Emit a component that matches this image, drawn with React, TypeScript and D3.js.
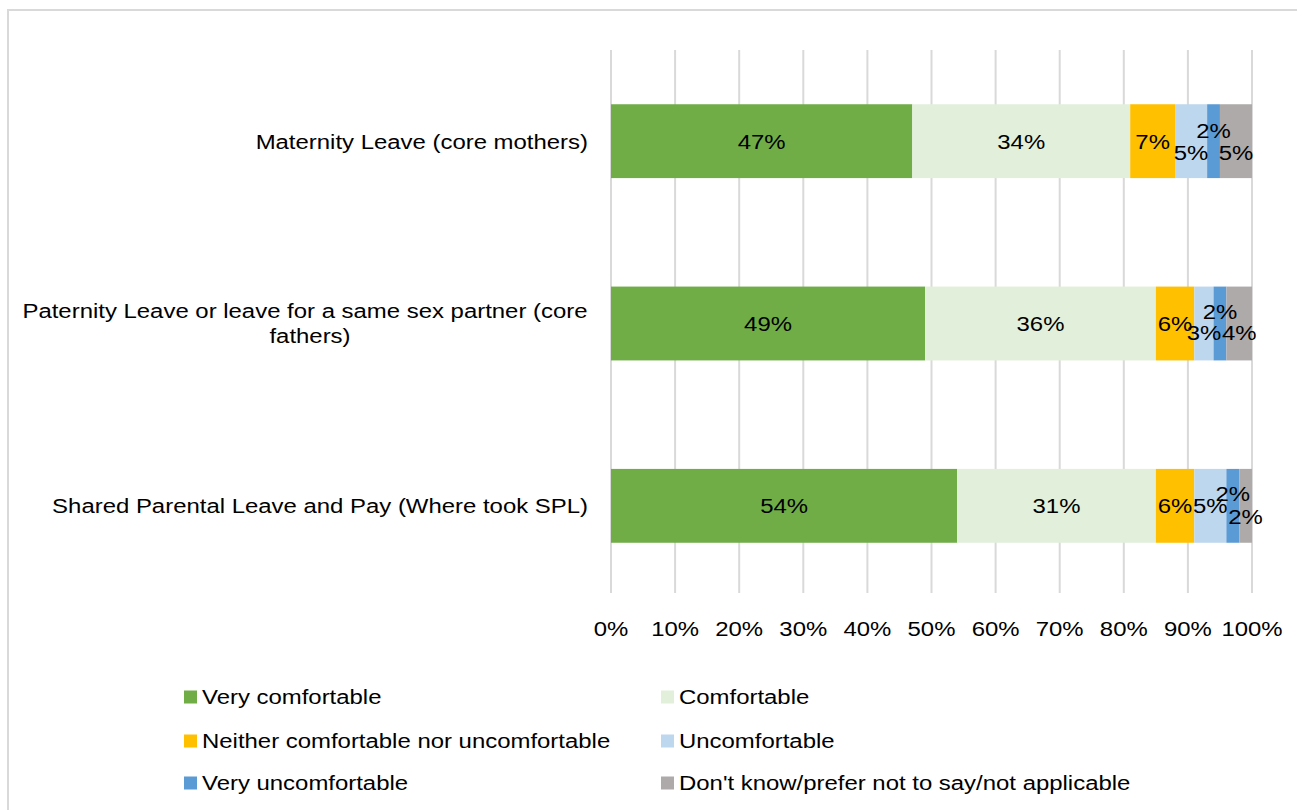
import React from "react";
import * as d3 from "d3";

const categories = [
  "Maternity Leave (core mothers)",
  "Paternity Leave or leave for a same sex partner (core fathers)",
  "Shared Parental Leave and Pay (Where took SPL)",
];
const seriesNames = [
  "Very comfortable",
  "Comfortable",
  "Neither comfortable nor uncomfortable",
  "Uncomfortable",
  "Very uncomfortable",
  "Don't know/prefer not to say/not applicable",
];
const veryComfortable = [47, 49, 54];
const comfortable = [34, 36, 31];
const neither = [7, 6, 6];
const uncomfortable = [5, 3, 5];
const veryUncomfortable = [2, 2, 2];
const dontKnow = [5, 4, 2];
const xTicks = [0, 10, 20, 30, 40, 50, 60, 70, 80, 90, 100];

const colors = ["#70AD47", "#E2EFDA", "#FFC000", "#BDD7EE", "#5B9BD5", "#AEAAAA"];

const SX = 1.14;
const FS = 21;

function T({ x, y, anchor = "start", children }: any) {
  return (
    <text
      transform={`translate(${x},${y}) scale(${SX},1)`}
      dy="0.35em"
      textAnchor={anchor}
      fontSize={FS}
      fill="#000"
    >
      {children}
    </text>
  );
}

export default function App() {
  const W = 1297;
  const H = 810;
  const font = "'Liberation Sans', Arial, sans-serif";
  const series = [veryComfortable, comfortable, neither, uncomfortable, veryUncomfortable, dontKnow];
  const rows = categories.map((c, i) => {
    const o: any = { cat: c };
    seriesNames.forEach((s, j) => (o[s] = series[j][i]));
    return o;
  });
  const stacked = d3.stack<any>().keys(seriesNames)(rows);

  const x = d3.scaleLinear().domain([0, 100]).range([611, 1252]);
  const y = d3.scaleBand<string>().domain(categories).range([50, 597]).paddingInner(0.595).paddingOuter(0.2975);

  // label vertical nudges (overlap avoidance) per category, per series
  const nudge = [
    [0, 0, 0, 11, -11, 11],
    [0, 0, 0, 9, -12, 9],
    [0, 0, 0, 0, -12, 11],
  ];

  const legendCols = [184, 661];
  const legendRows = [697, 741, 783];

  return (
    <svg width={W} height={H} style={{ position: "absolute", left: 0, top: 0, background: "#fff" }} fontFamily={font}>
      <rect x={8} y={10} width={1300} height={820} fill="#fff" stroke="#d9d9d9" strokeWidth={2} />
      {xTicks.map((t) => (
        <line key={t} x1={x(t)} x2={x(t)} y1={50} y2={593} stroke="#d9d9d9" strokeWidth={2} />
      ))}
      {stacked.map((s, j) =>
        s.map((d, i) => (
          <rect
            key={`${j}-${i}`}
            x={x(d[0])}
            y={y(categories[i])!}
            width={x(d[1]) - x(d[0])}
            height={y.bandwidth()}
            fill={colors[j]}
          />
        ))
      )}
      {stacked.map((s, j) =>
        s.map((d, i) => (
          <T
            key={`l${j}-${i}`}
            x={(x(d[0]) + x(d[1])) / 2}
            y={y(categories[i])! + y.bandwidth() / 2 + nudge[i][j]}
            anchor="middle"
          >
            {series[j][i]}%
          </T>
        ))
      )}
      {categories.map((c, i) => {
        const cy = y(c)! + y.bandwidth() / 2;
        if (i === 1) {
          return (
            <g key={c}>
              <T x={305} y={cy - 12.5} anchor="middle">Paternity Leave or leave for a same sex partner (core</T>
              <T x={310} y={cy + 12.5} anchor="middle">fathers)</T>
            </g>
          );
        }
        return (
          <T key={c} x={588} y={cy} anchor="end">
            {c}
          </T>
        );
      })}
      {xTicks.map((t) => (
        <T key={`t${t}`} x={x(t)} y={629} anchor="middle">
          {t}%
        </T>
      ))}
      {seriesNames.map((s, j) => {
        const lx = legendCols[j % 2];
        const ly = legendRows[Math.floor(j / 2)];
        return (
          <g key={s}>
            <rect x={lx} y={ly - 6.5} width={13} height={13} fill={colors[j]} />
            <T x={lx + 18} y={ly}>
              {s}
            </T>
          </g>
        );
      })}
    </svg>
  );
}
